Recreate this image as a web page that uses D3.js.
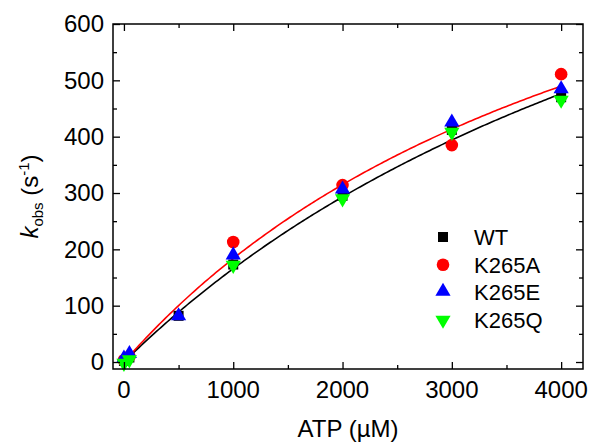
<!DOCTYPE html>
<html>
<head>
<meta charset="utf-8">
<script src="https://cdn.jsdelivr.net/npm/d3@7"></script>
<style>
  html, body { margin: 0; padding: 0; background: #fff; }
  svg { display: block; font-family: "Liberation Sans", Arial, sans-serif; }
</style>
</head>
<body>
<svg id="chart" width="591" height="442"></svg>
<script>
// ATP concentrations (µM) and observed rate constants (s^-1)
const atpWT = [0, 50, 500, 1000, 2000, 3000, 4000];
const kobsWT = [2, 8, 82, 173, 295, 412, 470];
const atpK265A = [0, 50, 1000, 2000, 3000, 4000];
const kobsK265A = [3, 10, 213, 314, 385, 511];
const atpK265E = [0, 50, 500, 1000, 2000, 3000, 4000];
const kobsK265E = [5, 13, 80, 188, 305, 424, 483];
const atpK265Q = [0, 50, 1000, 2000, 3000, 4000];
const kobsK265Q = [-2, 4, 172, 290, 408, 465];

// Hyperbolic fits: kobs = kmax * [ATP] / (K + [ATP])
const fitWT = { kmax: 1270, K: 6667 };
const fitK265A = { kmax: 1102, K: 5000 };

const seriesNames = ["WT", "K265A", "K265E", "K265Q"];
const xTicks = [0, 1000, 2000, 3000, 4000];
const yTicks = [0, 100, 200, 300, 400, 500, 600];

const series = [
  { name: seriesNames[0], x: atpWT, y: kobsWT, color: "#000000", symbol: "square" },
  { name: seriesNames[1], x: atpK265A, y: kobsK265A, color: "#ff0000", symbol: "circle" },
  { name: seriesNames[2], x: atpK265E, y: kobsK265E, color: "#0000ff", symbol: "up" },
  { name: seriesNames[3], x: atpK265Q, y: kobsK265Q, color: "#00ff00", symbol: "down" }
];
const fits = [
  { p: fitWT, color: "#000000" },
  { p: fitK265A, color: "#ff0000" }
];

const svg = d3.select("#chart");
const L = 113, R = 583, T = 24, B = 369;

const x = d3.scaleLinear().domain([-100, 4200]).range([L, R]);
const y = d3.scaleLinear().domain([-12.4, 600]).range([B, T]);

// marker shapes
function markerPath(sym) {
  if (sym === "square") return d3.symbol(d3.symbolSquare, 100)();
  if (sym === "circle") return d3.symbol(d3.symbolCircle, 125)();
  return d3.symbol(d3.symbolTriangle, 100)();
}
function markerTransform(sym, px, py) {
  if (sym === "down") return `translate(${px},${py}) rotate(180)`;
  if (sym === "up") return `translate(${px},${py - 1})`;
  return `translate(${px},${py})`;
}

// fitted curves
const line = d3.line().x(d => x(d[0])).y(d => y(d[1]));
fits.forEach(f => {
  const pts = d3.range(0, 4001, 20).map(a => [a, f.p.kmax * a / (f.p.K + a)]);
  svg.append("path")
    .attr("d", line(pts))
    .attr("fill", "none")
    .attr("stroke", f.color)
    .attr("stroke-width", 1.6);
});

// data points
series.forEach(s => {
  svg.append("g").selectAll("path")
    .data(s.x.map((a, i) => [a, s.y[i]]))
    .join("path")
    .attr("d", markerPath(s.symbol))
    .attr("transform", d => markerTransform(s.symbol, x(d[0]), y(d[1])))
    .attr("fill", s.color);
});

// axes: ticks point inward, mirrored on top and right
const tickMajor = 7, tickMinor = 4;
const xMinor = d3.range(500, 4000, 1000);
const yMinor = d3.range(50, 600, 100);

function drawAxis(gen, transform) {
  svg.append("g").attr("transform", transform).call(gen)
    .call(g => g.select(".domain").remove())
    .call(g => g.selectAll(".tick line").attr("stroke", "#000").attr("stroke-width", 1.3));
}

// bottom
drawAxis(d3.axisTop(x).tickValues(xTicks).tickSize(tickMajor).tickFormat(""), `translate(0,${B})`);
drawAxis(d3.axisTop(x).tickValues(xMinor).tickSize(tickMinor).tickFormat(""), `translate(0,${B})`);
// top
drawAxis(d3.axisBottom(x).tickValues(xTicks).tickSize(tickMajor).tickFormat(""), `translate(0,${T})`);
drawAxis(d3.axisBottom(x).tickValues(xMinor).tickSize(tickMinor).tickFormat(""), `translate(0,${T})`);
// left
drawAxis(d3.axisRight(y).tickValues(yTicks).tickSize(tickMajor).tickFormat(""), `translate(${L},0)`);
drawAxis(d3.axisRight(y).tickValues(yMinor).tickSize(tickMinor).tickFormat(""), `translate(${L},0)`);
// right
drawAxis(d3.axisLeft(y).tickValues(yTicks).tickSize(tickMajor).tickFormat(""), `translate(${R},0)`);
drawAxis(d3.axisLeft(y).tickValues(yMinor).tickSize(tickMinor).tickFormat(""), `translate(${R},0)`);

// frame
svg.append("rect")
  .attr("x", L).attr("y", T).attr("width", R - L).attr("height", B - T)
  .attr("fill", "none").attr("stroke", "#000").attr("stroke-width", 1.5);

// tick labels
svg.append("g").selectAll("text").data(xTicks).join("text")
  .attr("x", d => x(d)).attr("y", 398)
  .attr("text-anchor", "middle")
  .attr("font-size", 24)
  .text(d => d);
svg.append("g").selectAll("text").data(yTicks).join("text")
  .attr("x", 104).attr("y", d => y(d))
  .attr("dy", "0.35em")
  .attr("text-anchor", "end")
  .attr("font-size", 24)
  .text(d => d);

// axis titles
svg.append("text")
  .attr("x", (L + R) / 2).attr("y", 437)
  .attr("text-anchor", "middle")
  .attr("font-size", 24)
  .text("ATP (µM)");

const yt = svg.append("text")
  .attr("transform", `translate(38,${(T + B) / 2}) rotate(-90)`)
  .attr("text-anchor", "middle")
  .attr("font-size", 24);
yt.append("tspan").attr("font-style", "italic").text("k");
yt.append("tspan").attr("font-size", 15).attr("dy", 5).text("obs");
yt.append("tspan").attr("dy", -5).text(" (s");
yt.append("tspan").attr("font-size", 15).attr("dy", -9).text("-1");
yt.append("tspan").attr("dy", 9).text(")");

// legend
const lg = svg.append("g");
series.forEach((s, i) => {
  const ly = 237 + i * 27.7;
  lg.append("path")
    .attr("d", markerPath(s.symbol))
    .attr("transform", markerTransform(s.symbol, 443, ly))
    .attr("fill", s.color);
  lg.append("text")
    .attr("x", 474).attr("y", ly)
    .attr("dy", "0.36em")
    .attr("font-size", 22)
    .text(s.name);
});
</script>
</body>
</html>
